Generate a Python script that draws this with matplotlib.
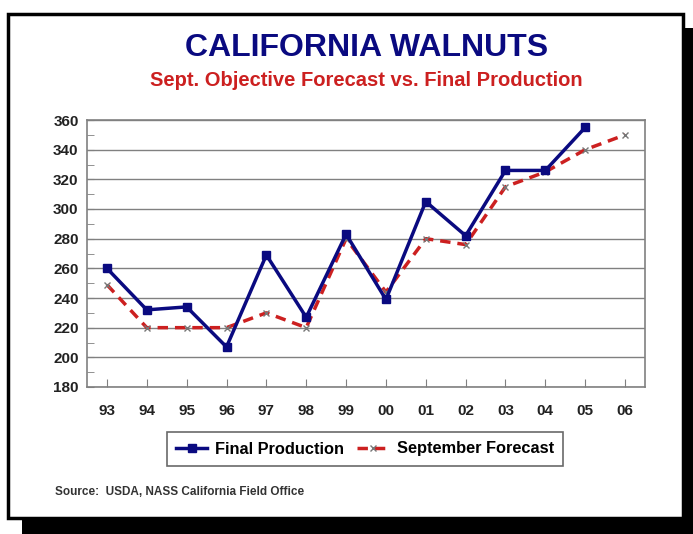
import matplotlib.pyplot as plt
from matplotlib.patches import Rectangle

years = ['93', '94', '95', '96', '97', '98', '99', '00', '01', '02', '03', '04', '05', '06']
final_production = [260, 232, 234, 207, 269, 227, 283, 239, 305, 282, 326, 326, 355]
sept_forecast = [249, 220, 220, 220, 230, 220, 280, 244, 280, 276, 315, 325, 340, 350]

navy = '#0a0a80'
red = '#cc2020'

plt.rcParams['font.family'] = ['Liberation Sans', 'DejaVu Sans']
plt.rcParams['font.weight'] = 'bold'

fig = plt.figure(figsize=(6.93, 5.34), dpi=100)
fig.patch.set_facecolor('white')

# card with drop shadow
W, H = 693.0, 534.0
shadow = Rectangle((22 / W, 0), 1 - 22 / W, 1 - 28 / H, transform=fig.transFigure,
                   facecolor='black', edgecolor='none', zorder=0)
card = Rectangle((8 / W, 16 / H), 675 / W, 504 / H, transform=fig.transFigure,
                 facecolor='white', edgecolor='black', linewidth=2.5, zorder=1)
fig.patches.extend([shadow, card])

ax = fig.add_axes([87 / W, 1 - 387 / H, 558 / W, 267 / H])
ax.set_zorder(2)
x = [i + 0.5 for i in range(len(years))]

ax.plot(x[:len(final_production)], final_production, color=navy, lw=2.5, marker='s',
        markersize=6, label='Final Production', zorder=4)
ax.plot(x, sept_forecast, color=red, lw=2.5, ls=(0, (3, 2)), marker='x', markersize=4,
        markeredgecolor='#777777', markeredgewidth=1, label='September Forecast', zorder=3)

ax.set_xlim(0, len(years))
ax.set_ylim(180, 360)
ax.set_yticks(range(180, 361, 20))
ax.set_yticks(range(190, 360, 20), minor=True)
ax.set_xticks(x)
ax.set_xticklabels(years)
ax.grid(axis='y', color='#808080', lw=1)
ax.set_axisbelow(True)
for s in ax.spines.values():
    s.set_color('#808080')
    s.set_linewidth(1.2)
ax.tick_params(axis='x', direction='in', length=6, color='#808080', pad=12,
               labelsize=11, labelcolor='#222222')
ax.tick_params(axis='y', which='both', direction='in', length=5, color='#808080',
               labelsize=11, labelcolor='#222222', pad=6)

fig.text(0.529, 1 - 48 / H, 'CALIFORNIA WALNUTS', color=navy, fontsize=23,
         fontweight='bold', ha='center', va='center', zorder=3)
fig.text(0.529, 1 - 81 / H, 'Sept. Objective Forecast vs. Final Production', color=red,
         fontsize=14.5, fontweight='bold', ha='center', va='center', zorder=3)

leg = fig.legend(loc='center', bbox_to_anchor=(365 / W, 1 - 449 / H), ncol=2,
                 fontsize=11.8, frameon=True, fancybox=False, edgecolor='#444444',
                 handlelength=1.9, handletextpad=0.5, columnspacing=0.8, borderpad=0.55)
leg.get_frame().set_linewidth(1.2)
leg.set_zorder(3)

fig.text(55 / W, 1 - 492 / H, 'Source:  USDA, NASS California Field Office', fontsize=8.5,
         fontweight='bold', color='#333333', ha='left', va='center', zorder=3)

fig.savefig('out.png', dpi=100)
